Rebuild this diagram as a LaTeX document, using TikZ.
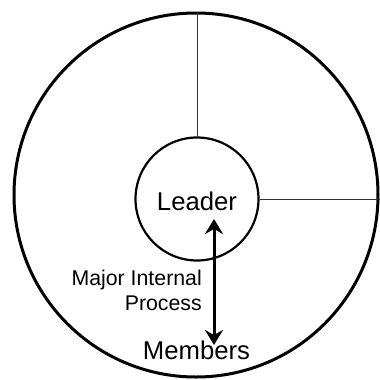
\documentclass[tikz,border=0pt]{standalone}
\usepackage{fontspec}
\setmainfont{Liberation Sans}
\usetikzlibrary{arrows.meta}
\begin{document}
\begin{tikzpicture}[x=1bp,y=-1bp,
  ring/.style={draw, circle, inner sep=0pt},
  spoke/.style={draw=black!80, line width=0.9bp},
  bigarrow/.style={line width=3bp, {Stealth[length=15bp,width=18bp,inset=5bp]}-{Stealth[length=15bp,width=18bp,inset=5bp]}},
  lbl/.style={inner sep=0pt, font=\fontsize{25.7bp}{30bp}\selectfont}]
\useasboundingbox (0,0) rectangle (380,380);
\node[ring, line width=3bp, minimum size=364bp] (outer) at (196,195) {};
\node[ring, line width=2.2bp, minimum size=123bp] (leader) at (197,199) {};
\node[lbl] (leadertext) at (197,201) {Leader};
\draw[spoke] (leader.north) -- (leader.north |- outer.north);
\draw[spoke] (leader.east) -- (leader.east -| outer.east);
\node[lbl] (members) at (196.5,350) {Members};
\node[inner sep=0pt, align=right, anchor=east, font=\fontsize{21.3bp}{25bp}\selectfont] (mip) at (202,290) {Major Internal\\Process};
\coordinate (atop) at (214,219);
\coordinate (abot) at (214,345);
\draw[bigarrow] (atop) -- (abot);
\end{tikzpicture}
\end{document}
